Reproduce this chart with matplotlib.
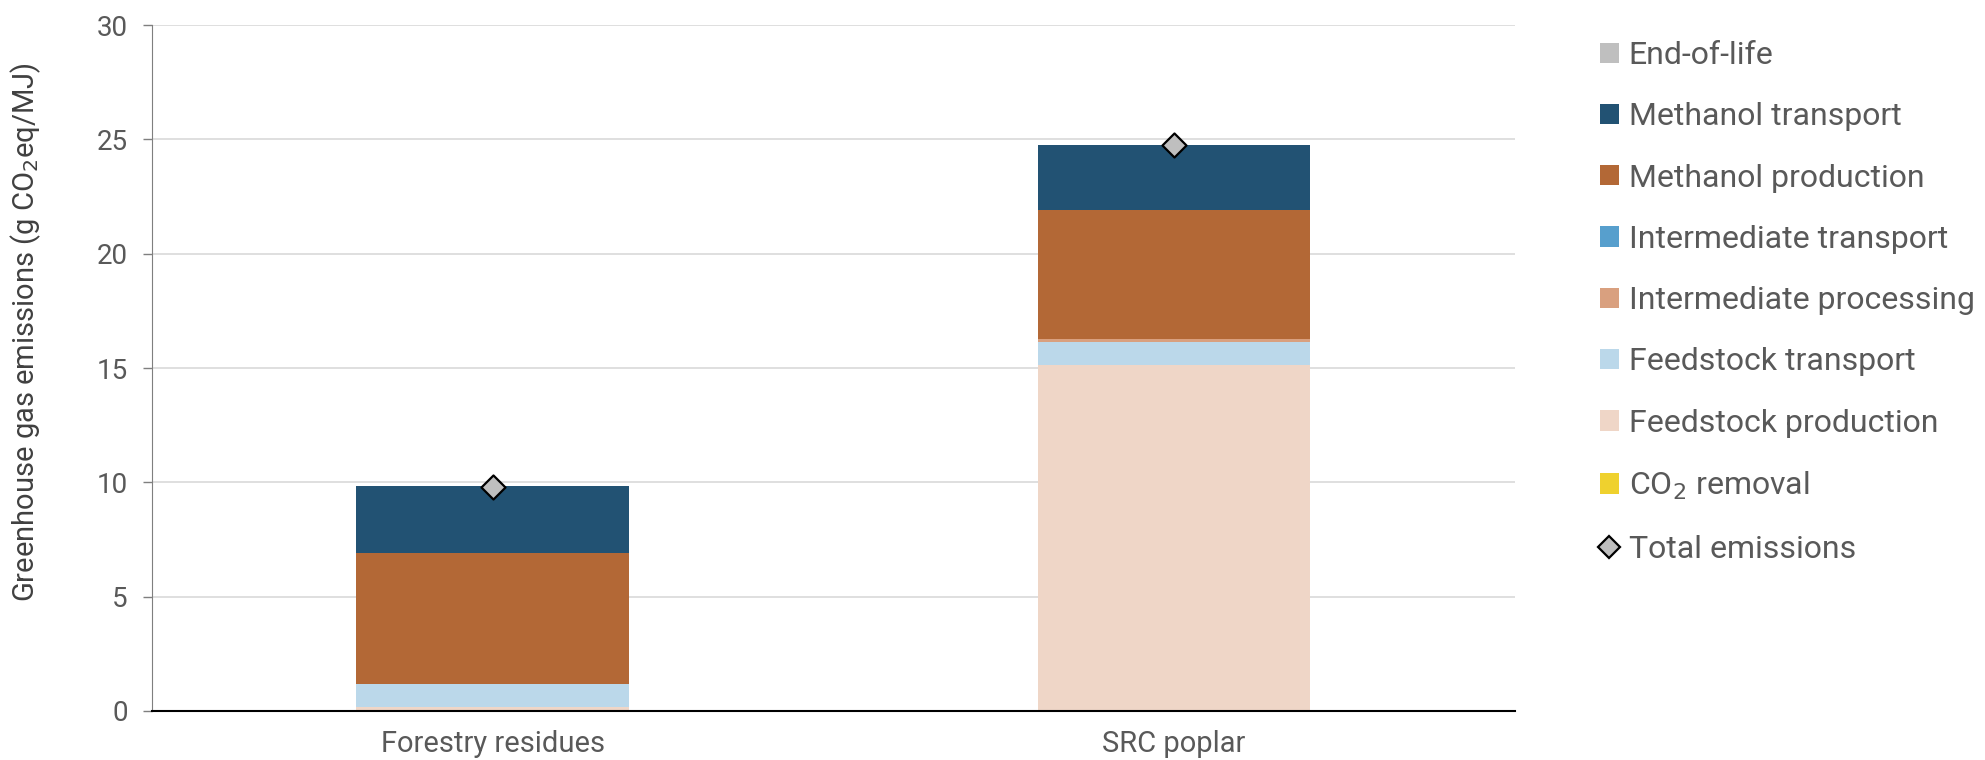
import matplotlib

matplotlib.use("Agg")
import matplotlib.pyplot as plt
import numpy as np
from matplotlib.lines import Line2D
from matplotlib.patches import Patch

plt.rcParams["font.family"] = ["Roboto", "DejaVu Sans"]

pathways = ["Forestry residues", "SRC poplar"]

# stack order, bottom to top
stages = [
    "CO$_2$ removal",
    "Feedstock production",
    "Feedstock transport",
    "Intermediate processing",
    "Intermediate transport",
    "Methanol production",
    "Methanol transport",
    "End-of-life",
]
co2_removal = [0.0, 0.0]
feedstock_production = [0.17, 15.15]
feedstock_transport = [1.0, 1.0]
intermediate_processing = [0.02, 0.1]
intermediate_transport = [0.0, 0.0]
methanol_production = [5.7, 5.67]
methanol_transport = [2.95, 2.84]
end_of_life = [0.0, 0.0]
total_emissions = [9.8, 24.77]

colors = ["#EFD12E", "#EFD6C7", "#BBD8EA", "#D9A07F",
          "#579FCD", "#B36836", "#225273", "#BFBFBF"]
text_grey = "#595959"

series = [co2_removal, feedstock_production, feedstock_transport,
          intermediate_processing, intermediate_transport,
          methanol_production, methanol_transport, end_of_life]

fig = plt.figure(figsize=(19.85, 7.6), dpi=100)
ax = fig.add_axes([0.0766, 0.0645, 0.6864, 0.9025])

x = np.arange(len(pathways))
bottom = np.zeros(len(pathways))
for vals, col in zip(series, colors):
    ax.bar(x, vals, width=0.4, bottom=bottom, color=col, zorder=2)
    bottom += np.array(vals)

ax.scatter(x, total_emissions, marker="D", s=150, facecolor="#BFBFBF",
           edgecolor="black", linewidth=1.6, zorder=3)

ax.set_xlim(-0.5, 1.5)
ax.set_ylim(0, 30)
ax.set_yticks(np.arange(0, 31, 5))
ax.set_xticks(x)
ax.set_xticklabels(pathways, fontsize=21, color=text_grey)
ax.tick_params(axis="x", length=0, pad=14)
ax.tick_params(axis="y", labelsize=20, labelcolor=text_grey, color="#7F7F7F",
               length=6.5, width=1, pad=11)
ax.grid(axis="y", color="#D9D9D9", linewidth=1.2, zorder=0)
ax.set_axisbelow(True)
for side in ["top", "right"]:
    ax.spines[side].set_visible(False)
ax.spines["left"].set_color("#7F7F7F")
ax.spines["bottom"].set_color("black")
ax.spines["bottom"].set_linewidth(1.5)
ax.set_ylabel("Greenhouse gas emissions (g CO$_2$eq/MJ)", fontsize=21,
              color="#404040")
ax.yaxis.set_label_coords(-0.08, 0.553)

handles = [Patch(facecolor=c) for c in colors[::-1]]
labels = stages[::-1]
handles.append(Line2D([], [], marker="D", linestyle="none", markersize=11,
                      markerfacecolor="#BFBFBF", markeredgecolor="black",
                      markeredgewidth=1.6))
labels.append("Total emissions")
fig.legend(handles, labels, loc="upper left", bbox_to_anchor=(0.806, 0.946),
           frameon=False, fontsize=23, labelcolor=text_grey,
           borderpad=0, borderaxespad=0,
           handlelength=0.6, handleheight=0.6, handletextpad=0.3,
           labelspacing=1.01)

fig.savefig("out.png", dpi=100)
